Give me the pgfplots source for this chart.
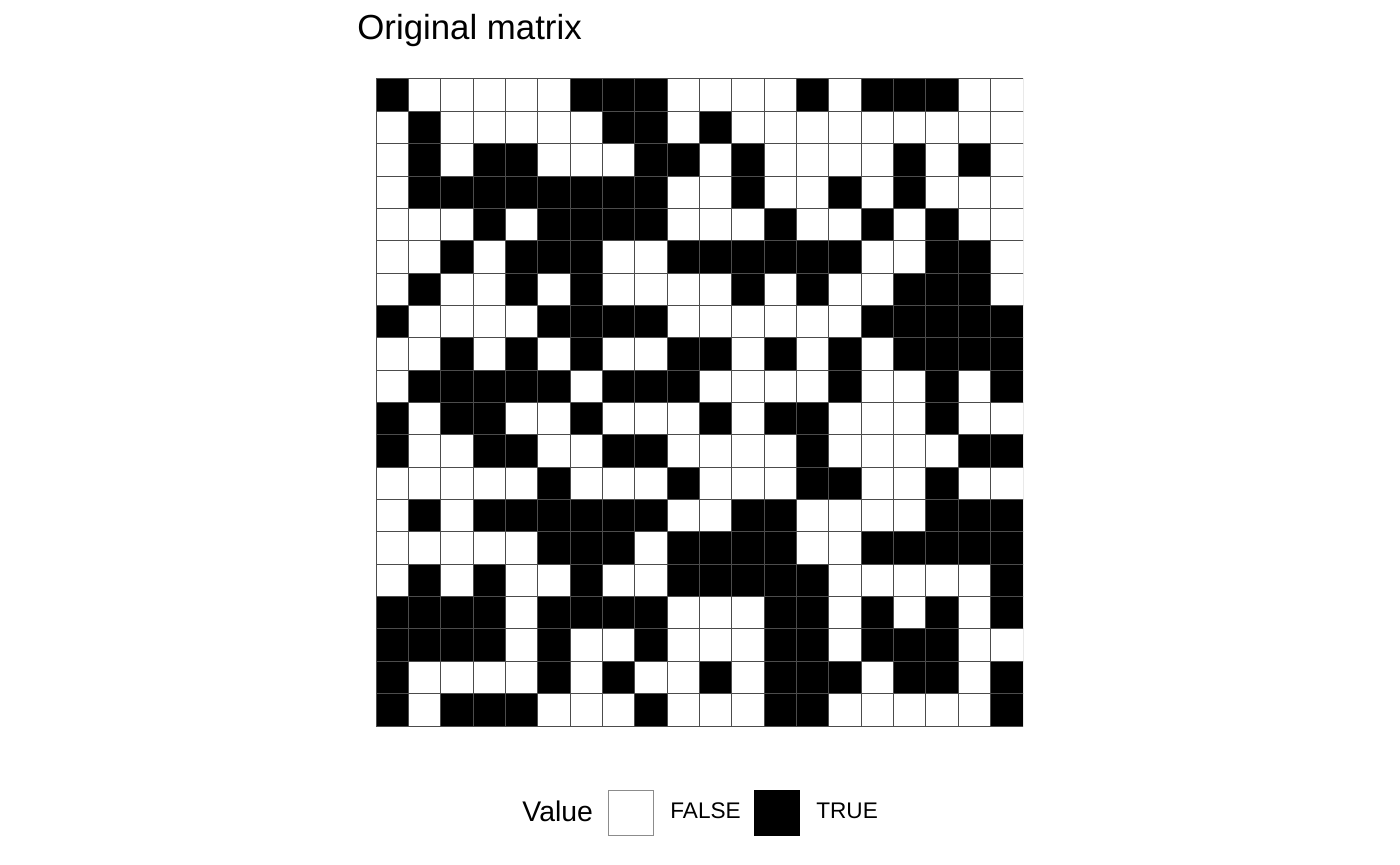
\documentclass[border=0pt]{standalone}
\usepackage{fontspec}
\setmainfont{Liberation Sans}
\usepackage{pgfplots}
\pgfplotsset{compat=1.18}

\begin{document}
\begin{tikzpicture}
\path[use as bounding box] (0,0) rectangle (700pt,432.5pt);
\node[anchor=base west, inner sep=0pt, font=\fontsize{17.4}{20}\selectfont] at (178.5pt,412.5pt) {Original matrix};
\node[anchor=base west, inner sep=0pt, font=\fontsize{14.2}{16}\selectfont] at (261pt,21.7pt) {Value};
\begin{axis}[
    at={(188pt,69.5pt)}, anchor=south west,
    scale only axis, width=323.5pt, height=323.5pt,
    xmin=-0.5, xmax=19.5, ymin=-0.5, ymax=19.5,
    y dir=reverse,
    hide axis,
    colormap={bw}{color(0)=(white) color(1)=(black)},
    point meta min=0, point meta max=1,
    legend columns=-1,
    legend style={draw=none, fill=none, inner sep=0pt,
        at={(axis description cs:0.3586,-0.1337)}, anchor=west,
        font=\fontsize{11.3}{13}\selectfont,
        nodes={inner sep=0pt},
        /tikz/every odd column/.append style={column sep=8pt},
        /tikz/every even column/.append style={column sep=6.8pt}},
]
\addplot[matrix plot*, shader=faceted, faceted color=black!70, line width=0.5pt,
    mesh/cols=20, mesh/rows=20, point meta=explicit, forget plot]
    table[row sep=\\, x=x, y=y, meta=v] {
x y v\\
0 0 1\\1 0 0\\2 0 0\\3 0 0\\4 0 0\\5 0 0\\6 0 1\\7 0 1\\8 0 1\\9 0 0\\10 0 0\\11 0 0\\12 0 0\\13 0 1\\14 0 0\\15 0 1\\16 0 1\\17 0 1\\18 0 0\\19 0 0\\
0 1 0\\1 1 1\\2 1 0\\3 1 0\\4 1 0\\5 1 0\\6 1 0\\7 1 1\\8 1 1\\9 1 0\\10 1 1\\11 1 0\\12 1 0\\13 1 0\\14 1 0\\15 1 0\\16 1 0\\17 1 0\\18 1 0\\19 1 0\\
0 2 0\\1 2 1\\2 2 0\\3 2 1\\4 2 1\\5 2 0\\6 2 0\\7 2 0\\8 2 1\\9 2 1\\10 2 0\\11 2 1\\12 2 0\\13 2 0\\14 2 0\\15 2 0\\16 2 1\\17 2 0\\18 2 1\\19 2 0\\
0 3 0\\1 3 1\\2 3 1\\3 3 1\\4 3 1\\5 3 1\\6 3 1\\7 3 1\\8 3 1\\9 3 0\\10 3 0\\11 3 1\\12 3 0\\13 3 0\\14 3 1\\15 3 0\\16 3 1\\17 3 0\\18 3 0\\19 3 0\\
0 4 0\\1 4 0\\2 4 0\\3 4 1\\4 4 0\\5 4 1\\6 4 1\\7 4 1\\8 4 1\\9 4 0\\10 4 0\\11 4 0\\12 4 1\\13 4 0\\14 4 0\\15 4 1\\16 4 0\\17 4 1\\18 4 0\\19 4 0\\
0 5 0\\1 5 0\\2 5 1\\3 5 0\\4 5 1\\5 5 1\\6 5 1\\7 5 0\\8 5 0\\9 5 1\\10 5 1\\11 5 1\\12 5 1\\13 5 1\\14 5 1\\15 5 0\\16 5 0\\17 5 1\\18 5 1\\19 5 0\\
0 6 0\\1 6 1\\2 6 0\\3 6 0\\4 6 1\\5 6 0\\6 6 1\\7 6 0\\8 6 0\\9 6 0\\10 6 0\\11 6 1\\12 6 0\\13 6 1\\14 6 0\\15 6 0\\16 6 1\\17 6 1\\18 6 1\\19 6 0\\
0 7 1\\1 7 0\\2 7 0\\3 7 0\\4 7 0\\5 7 1\\6 7 1\\7 7 1\\8 7 1\\9 7 0\\10 7 0\\11 7 0\\12 7 0\\13 7 0\\14 7 0\\15 7 1\\16 7 1\\17 7 1\\18 7 1\\19 7 1\\
0 8 0\\1 8 0\\2 8 1\\3 8 0\\4 8 1\\5 8 0\\6 8 1\\7 8 0\\8 8 0\\9 8 1\\10 8 1\\11 8 0\\12 8 1\\13 8 0\\14 8 1\\15 8 0\\16 8 1\\17 8 1\\18 8 1\\19 8 1\\
0 9 0\\1 9 1\\2 9 1\\3 9 1\\4 9 1\\5 9 1\\6 9 0\\7 9 1\\8 9 1\\9 9 1\\10 9 0\\11 9 0\\12 9 0\\13 9 0\\14 9 1\\15 9 0\\16 9 0\\17 9 1\\18 9 0\\19 9 1\\
0 10 1\\1 10 0\\2 10 1\\3 10 1\\4 10 0\\5 10 0\\6 10 1\\7 10 0\\8 10 0\\9 10 0\\10 10 1\\11 10 0\\12 10 1\\13 10 1\\14 10 0\\15 10 0\\16 10 0\\17 10 1\\18 10 0\\19 10 0\\
0 11 1\\1 11 0\\2 11 0\\3 11 1\\4 11 1\\5 11 0\\6 11 0\\7 11 1\\8 11 1\\9 11 0\\10 11 0\\11 11 0\\12 11 0\\13 11 1\\14 11 0\\15 11 0\\16 11 0\\17 11 0\\18 11 1\\19 11 1\\
0 12 0\\1 12 0\\2 12 0\\3 12 0\\4 12 0\\5 12 1\\6 12 0\\7 12 0\\8 12 0\\9 12 1\\10 12 0\\11 12 0\\12 12 0\\13 12 1\\14 12 1\\15 12 0\\16 12 0\\17 12 1\\18 12 0\\19 12 0\\
0 13 0\\1 13 1\\2 13 0\\3 13 1\\4 13 1\\5 13 1\\6 13 1\\7 13 1\\8 13 1\\9 13 0\\10 13 0\\11 13 1\\12 13 1\\13 13 0\\14 13 0\\15 13 0\\16 13 0\\17 13 1\\18 13 1\\19 13 1\\
0 14 0\\1 14 0\\2 14 0\\3 14 0\\4 14 0\\5 14 1\\6 14 1\\7 14 1\\8 14 0\\9 14 1\\10 14 1\\11 14 1\\12 14 1\\13 14 0\\14 14 0\\15 14 1\\16 14 1\\17 14 1\\18 14 1\\19 14 1\\
0 15 0\\1 15 1\\2 15 0\\3 15 1\\4 15 0\\5 15 0\\6 15 1\\7 15 0\\8 15 0\\9 15 1\\10 15 1\\11 15 1\\12 15 1\\13 15 1\\14 15 0\\15 15 0\\16 15 0\\17 15 0\\18 15 0\\19 15 1\\
0 16 1\\1 16 1\\2 16 1\\3 16 1\\4 16 0\\5 16 1\\6 16 1\\7 16 1\\8 16 1\\9 16 0\\10 16 0\\11 16 0\\12 16 1\\13 16 1\\14 16 0\\15 16 1\\16 16 0\\17 16 1\\18 16 0\\19 16 1\\
0 17 1\\1 17 1\\2 17 1\\3 17 1\\4 17 0\\5 17 1\\6 17 0\\7 17 0\\8 17 1\\9 17 0\\10 17 0\\11 17 0\\12 17 1\\13 17 1\\14 17 0\\15 17 1\\16 17 1\\17 17 1\\18 17 0\\19 17 0\\
0 18 1\\1 18 0\\2 18 0\\3 18 0\\4 18 0\\5 18 1\\6 18 0\\7 18 1\\8 18 0\\9 18 0\\10 18 1\\11 18 0\\12 18 1\\13 18 1\\14 18 1\\15 18 0\\16 18 1\\17 18 1\\18 18 0\\19 18 1\\
0 19 1\\1 19 0\\2 19 1\\3 19 1\\4 19 1\\5 19 0\\6 19 0\\7 19 0\\8 19 1\\9 19 0\\10 19 0\\11 19 0\\12 19 1\\13 19 1\\14 19 0\\15 19 0\\16 19 0\\17 19 0\\18 19 0\\19 19 1\\
};
\addlegendimage{legend image code/.code={\draw[fill=white, draw=black!45, line width=0.5pt] (0pt,-11.25pt) rectangle (22.5pt,11.25pt);}}
\addlegendentry{FALSE}
\addlegendimage{legend image code/.code={\draw[fill=black, draw=black, line width=0.5pt] (0pt,-11.25pt) rectangle (22.5pt,11.25pt);}}
\addlegendentry{TRUE}
\end{axis}
\end{tikzpicture}
\end{document}
